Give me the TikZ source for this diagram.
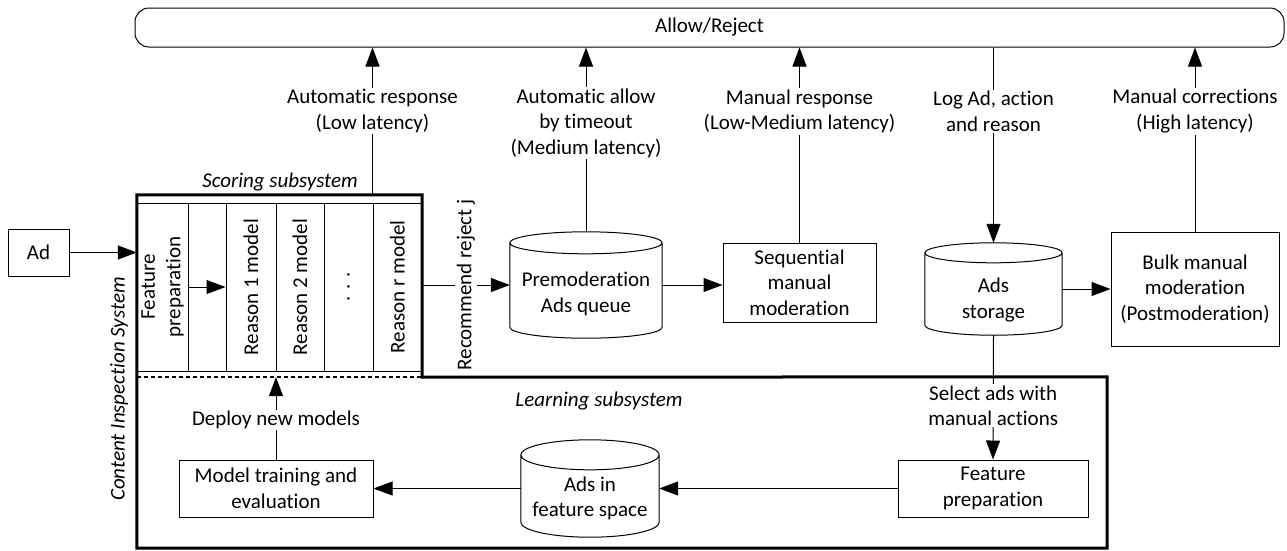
\documentclass[tikz,border=0pt]{standalone}
\usepackage{fontspec}
\setmainfont{Carlito}[RawFeature=-liga]
\usetikzlibrary{arrows.meta,calc}
\newcommand\cylshape[2]{%
  \draw[line width=1pt] let \p1=(#1.north west), \p2=(#1.south east), \n1={(\x2-\x1)/2} in
    ({\x1},{\y1-#2pt}) -- ({\x1},{\y2+#2pt})
    arc[start angle=180,end angle=360,x radius=\n1,y radius=#2pt]
    -- ({\x2},{\y1-#2pt})
    arc[start angle=0,end angle=180,x radius=\n1,y radius=#2pt]
    arc[start angle=180,end angle=360,x radius=\n1,y radius=#2pt];
}
\begin{document}
\begin{tikzpicture}[x=1pt,y=-1pt,
  every node/.style={font=\fontsize{21}{25.5}\selectfont},
  it/.style={font=\fontsize{21}{25.5}\selectfont\itshape},
  box/.style={draw, line width=1pt, rectangle, inner sep=0pt, align=center},
  cell/.style={draw, line width=1pt, rectangle, inner sep=0pt, minimum width=#1, minimum height=168},
  geo/.style={rectangle, inner sep=0pt},
  lbl/.style={fill=white, inner sep=1.5pt, align=center},
  arr/.style={line width=1pt, -{Triangle[length=19pt,width=14pt]}},
  ln/.style={line width=1pt},
  thickbox/.style={line width=3pt},
]
\useasboundingbox (0,0) rectangle (1287,550);

% top bar
\node[draw, line width=1pt, rounded corners=14pt, minimum width=1149, minimum height=39, inner sep=0pt] (al) at (709.5,27.5) {Allow/Reject};

% input
\node[box, minimum width=61, minimum height=47] (ad) at (38.5,252.5) {Ad};

% scoring subsystem frame
\node[geo, minimum width=285, minimum height=182] (sc) at (279.5,286) {};
\node[geo, minimum width=970, minimum height=171] (ls) at (622,462.5) {};

% scoring cells
\node[cell=51] (fp) at (162.5,287) {};
\node[cell=38] (gp) at (207,287) {};
\node[cell=50] (r1) at (251,287) {};
\node[cell=48] (r2) at (300,287) {};
\node[cell=49] (rd) at (348.5,287) {};
\node[cell=49] (rr) at (397.5,287) {};
\node[rotate=90, align=center, inner sep=0pt] (tfp) at (fp) {Feature\\preparation};
\node[rotate=90, inner sep=0pt] (tr1) at (r1) {Reason 1 model};
\node[rotate=90, inner sep=0pt] (tr2) at (r2) {Reason 2 model};
\node[rotate=90, inner sep=0pt] (trd) at (rd) {.\,\,.\,\,.};
\node[rotate=90, inner sep=0pt] (trr) at (rr) {Reason r model};

\draw[thickbox] (sc.south east) -- (ls.north east) -- (ls.south east) -- (ls.south west)
  -- (sc.north west) -- (sc.north east) -- cycle;
\draw[line width=2pt, dash pattern=on 4pt off 3pt] (sc.south west) -- (sc.south east);

% labels of systems
\node[it] (lsc) at (280,182) {Scoring subsystem};
\node[it] (lls) at (599,401) {Learning subsystem};
\node[it, rotate=90] (lcis) at (119,389) {Content Inspection System};

% moderation part
\node[geo, minimum width=152, minimum height=106] (pq) at (586,285) {};
\cylshape{pq}{11}
\node[align=center, inner sep=0pt] (tpq) at ($(pq.center)+(0,9)$) {Premoderation\\Ads queue};

\node[box, minimum width=153, minimum height=79] (seq) at (799.5,282.5) {Sequential\\manual\\moderation};

\node[geo, minimum width=137, minimum height=92] (st) at (993.5,289) {};
\cylshape{st}{10}
\node[align=center, inner sep=0pt] (tst) at ($(st.center)+(0,11)$) {Ads\\storage};

\node[box, minimum width=168, minimum height=114] (bk) at (1195,289) {Bulk manual\\moderation\\(Postmoderation)};

% learning part
\node[box, minimum width=190, minimum height=57] (lf) at (993,488.5) {Feature\\preparation};
\node[geo, minimum width=138, minimum height=97] (af) at (590,488.5) {};
\cylshape{af}{15}
\node[align=center, inner sep=0pt] (taf) at ($(af.center)+(0,10)$) {Ads in\\feature space};
\node[box, minimum width=194, minimum height=57] (mt) at (276,488.5) {Model training and\\evaluation};

% connectors
\draw[arr] (ad.east) -- (ad.east -| sc.west);
\draw[arr] (fp.east) -- (r1.west);
\draw[arr] (rr.west |- sc.north) -- (rr.west |- al.south)
  node[lbl, pos=0.568] {Automatic response\\(Low latency)};
\draw[arr] (sc.east |- pq.west) -- (pq.west)
  node[lbl, rotate=90, pos=0.5] {Recommend reject j};
\draw[arr] (pq.north) -- (pq.north |- al.south)
  node[lbl, pos=0.589] {Automatic allow\\by timeout\\(Medium latency)};
\draw[arr] (pq.east) -- (pq.east -| seq.west);
\draw[arr] (seq.north) -- (seq.north |- al.south)
  node[lbl, pos=0.673] {Manual response\\(Low-Medium latency)};
\draw[arr] (st.north |- al.south) -- (st.north)
  node[lbl, pos=0.327] {Log Ad, action\\and reason};
\draw[arr] (st.east) -- (st.east -| bk.west);
\draw[arr] (bk.north) -- (bk.north |- al.south)
  node[lbl, pos=0.654] {Manual corrections\\(High latency)};
\draw[arr] (st.south) -- (lf.north)
  node[lbl, pos=0.568] {Select ads with\\manual actions};
\draw[arr] (lf.west) -- (lf.west -| af.east);
\draw[arr] (af.west) -- (af.west -| mt.east);
\draw[arr] (mt.north) -- (mt.north |- sc.south)
  node[lbl, pos=0.48] {Deploy new models};
\end{tikzpicture}
\end{document}
